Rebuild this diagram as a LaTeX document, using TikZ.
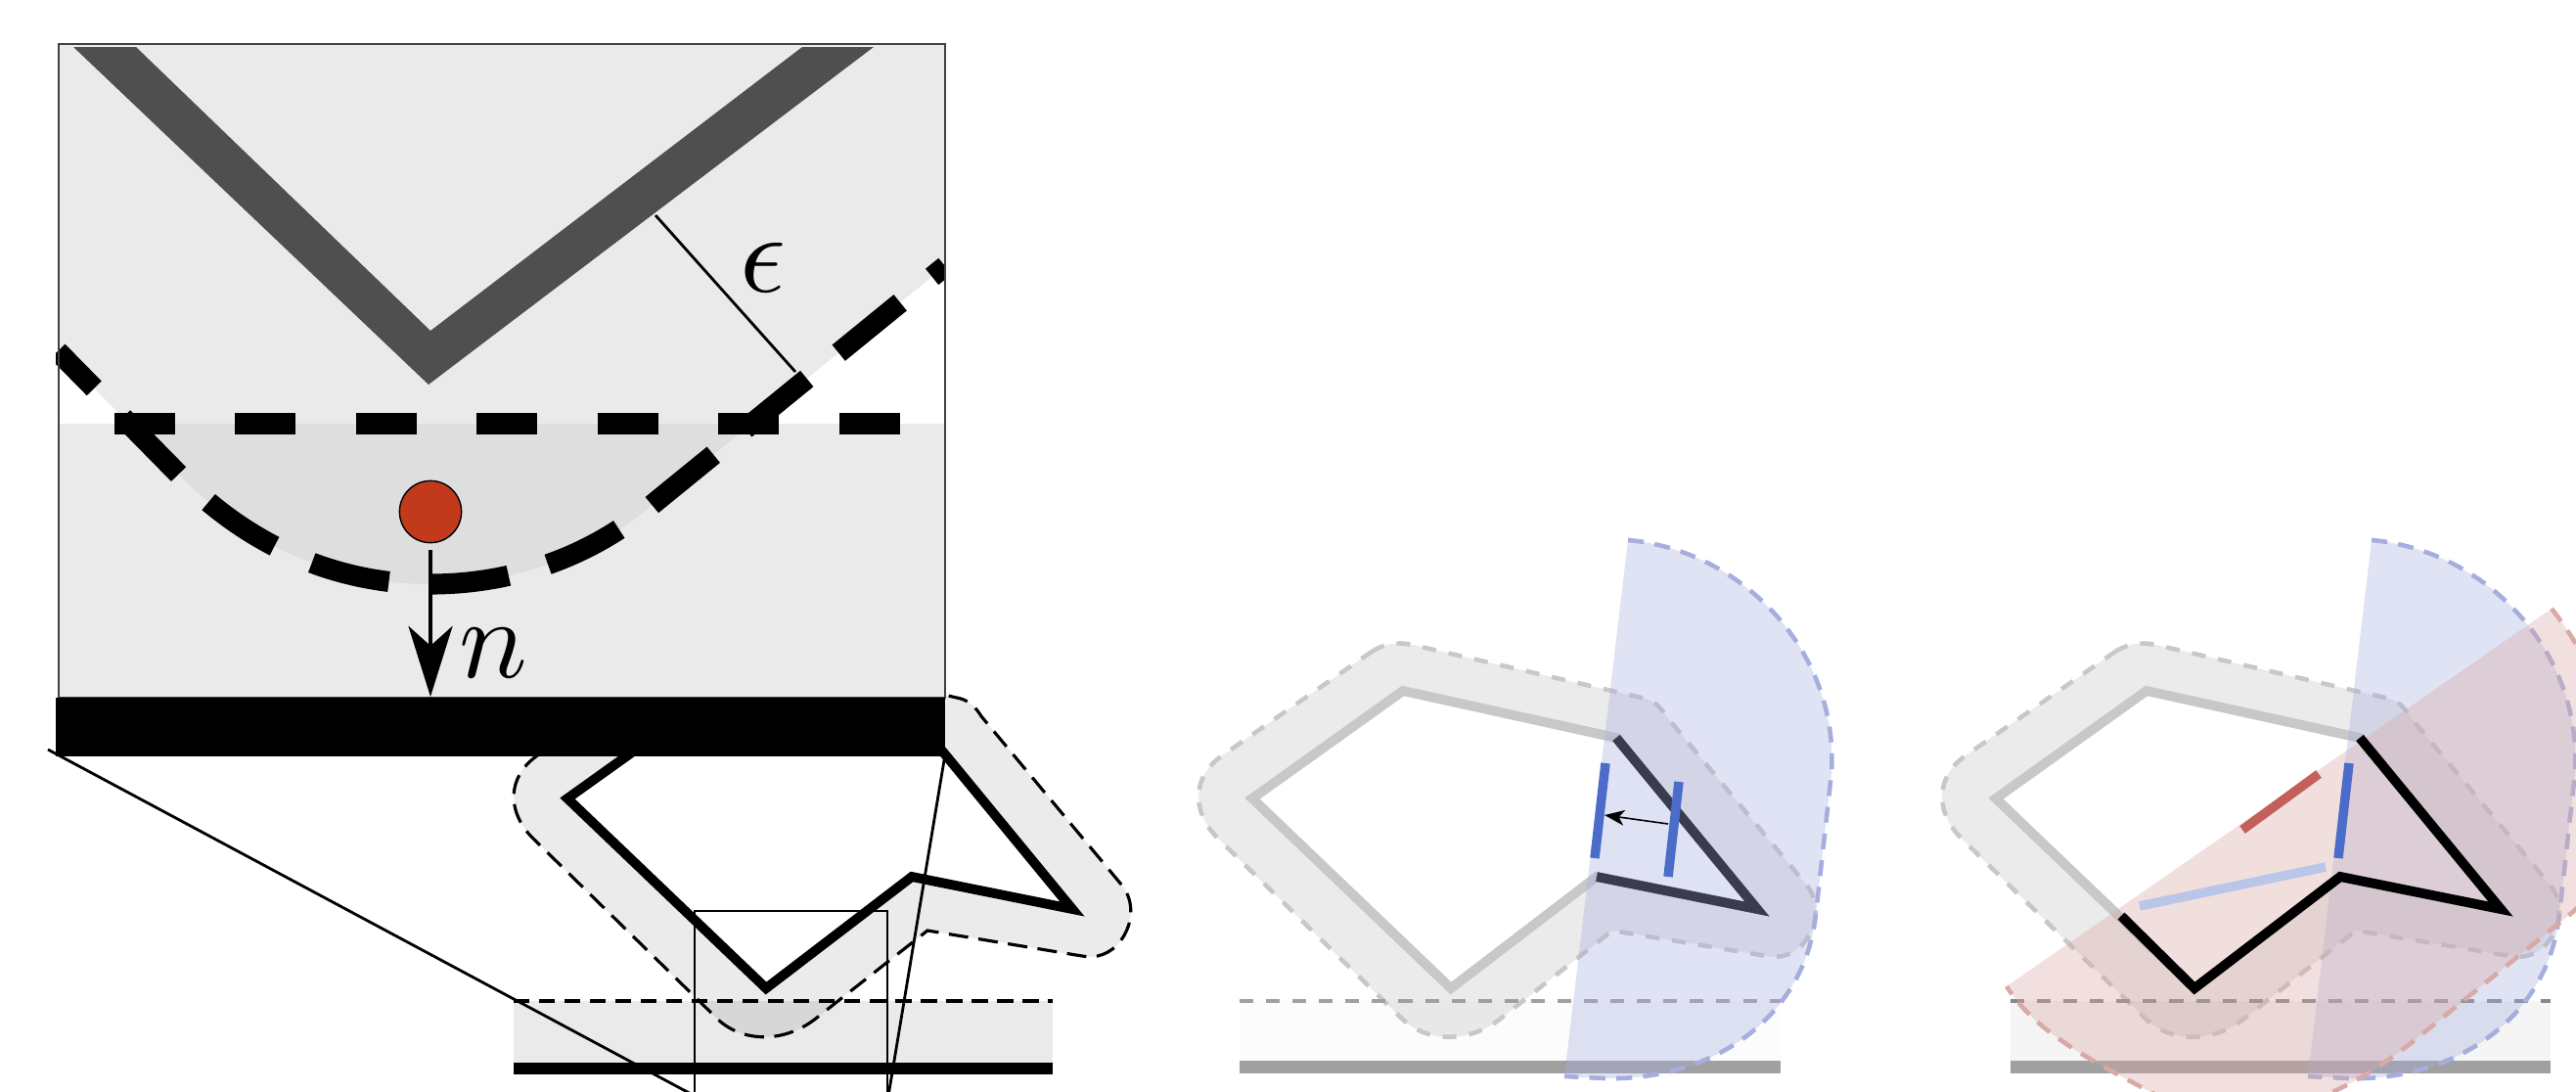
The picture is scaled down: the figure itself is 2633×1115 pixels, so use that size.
\documentclass[tikz,border=0pt]{standalone}
\usepackage{xcolor}
\usetikzlibrary{arrows.meta}
\definecolor{panelgrey}{HTML}{EAEAEA}
\definecolor{overlapgrey}{HTML}{DEDEDE}
\definecolor{darkvee}{HTML}{4F4F4F}
\definecolor{dotred}{HTML}{C03A1B}
\definecolor{fadegrey}{HTML}{C8C8C8}
\definecolor{stripgrey}{HTML}{A0A0A0}
\definecolor{sectorblue}{HTML}{A6AEDD}
\definecolor{sectorred}{HTML}{D9A9A5}
\definecolor{barblue}{HTML}{4C6CC9}
\definecolor{barred}{HTML}{C4605A}
\definecolor{barpale}{HTML}{BAC6E8}
\newcommand{\hullcurve}{(59,359) -- (181,483) .. controls (250,555) and (340,597) .. (440,597)
  .. controls (530,597) and (610,565) .. (670,513) -- (966,272)}
\newcommand{\bandpath}{(1402,666) .. controls (1418,656) and (1432,656) .. (1448,660) -- (1682,714)
  .. controls (1692,717) and (1698,724) .. (1703,732) -- (1847,905)
  .. controls (1860,922) and (1858,945) .. (1845,962) .. controls (1835,975) and (1820,980) .. (1806,977)
  -- (1648,951) -- (1535,1040) .. controls (1503,1066) and (1460,1066) .. (1434,1042) -- (1245,857)
  .. controls (1218,830) and (1218,795) .. (1248,773) -- cycle}
\newcommand{\polypath}{(1434,706) -- (1280,816) -- (1483,1010) -- (1632,896) -- (1796,929) -- (1652,754) -- cycle}
\newcommand{\bluearc}{(1664,552) .. controls (1780,562) and (1880,665) .. (1872,790) -- (1856,934)
  .. controls (1845,1040) and (1750,1105) .. (1640,1102) -- (1599,1100)}
\newcommand{\redarc}{(2608,622) .. controls (2700,740) and (2700,880) .. (2620,940) -- (2473,1059)
  .. controls (2380,1135) and (2290,1160) .. (2200,1117) .. controls (2140,1085) and (2080,1055) .. (2051,1008)}
\tikzset{
  x=0.01cm, y=-0.01cm,
  bandfill/.style={fill=black, fill opacity=0.08},
  bandline/.style={dash pattern=on 5.7pt off 3pt, line width=0.9pt},
  fadeline/.style={draw=fadegrey, dash pattern=on 4pt off 3.7pt, line width=1.3pt},
  polyline/.style={line width=2.8pt, miter limit=20},
  bluefill/.style={fill=sectorblue, fill opacity=0.35},
  bluedash/.style={draw=sectorblue, dash pattern=on 4.6pt off 3.2pt, line width=1.3pt},
  redfill/.style={fill=sectorred, fill opacity=0.36},
  reddash/.style={draw=sectorred, dash pattern=on 4.6pt off 3.2pt, line width=1.3pt},
  stripdash/.style={draw=stripgrey, dash pattern=on 4pt off 3.7pt, line width=1.3pt},
  bar/.style={line width=2.7pt},
  zoomline/.style={line width=0.8pt},
  bigtip/.style={-{Stealth[length=20.5pt,width=12.8pt,inset=5.7pt]}, line width=1.3pt},
  smalltip/.style={-{Stealth[length=5.8pt,width=4.5pt,inset=1.6pt]}, line width=0.45pt},
  biglabel/.style={scale=3.3, inner sep=0pt},
}
\begin{document}
\begin{tikzpicture}
  \clip[use as bounding box] (0,0) rectangle (2633,1115);

  \fill[panelgrey] (525,1023) rectangle (1076,1086);
  \begin{scope}[shift={(-700,0)}]
    \fill[bandfill] \bandpath;
    \draw[black, bandline] \bandpath;
    \draw[black, polyline, fill=white] \polypath;
  \end{scope}
  \draw[black, dash pattern=on 4.6pt off 2.8pt, line width=1pt] (525,1023) -- (1076,1023);
  \fill[black] (525,1086) rectangle (1076,1098);
  \draw[line width=0.45pt] (710,931) rectangle (907,1130);
  \draw[zoomline] (49,766) -- (710,1120);
  \draw[zoomline] (966,771) -- (908,1120);

  \fill[white] (60,45) rectangle (966,713);
  \fill[panelgrey] (60,433) rectangle (966,713);
  \fill[panelgrey] \hullcurve -- (966,45) -- (60,45) -- cycle;
  \begin{scope}
    \clip (60,433) rectangle (966,713);
    \fill[overlapgrey] \hullcurve -- (966,45) -- (60,45) -- cycle;
  \end{scope}
  \fill[darkvee] (75,48) -- (139,48) -- (440,338) -- (820,48) -- (893,48) -- (438,393) -- cycle;
  \draw[line width=6pt, dash pattern=on 17.6pt off 17.5pt] (117,433) -- (920,433);
  \begin{scope}
    \clip (57,45) rectangle (966,713);
    \draw[line width=6pt, dash pattern=on 23.1pt off 11.9pt, dash phase=8pt] \hullcurve;
  \end{scope}
  \draw[line width=0.45pt, draw=black!75] (60,45) rectangle (966,713);
  \draw[line width=0.8pt] (670,220) -- (813,380);
  \node[biglabel] (eps) at (780,274) {$\epsilon$};
  \node[circle, draw=black, fill=dotred, line width=0.4pt, minimum size=18pt, inner sep=0pt] (point) at (440,523) {};
  \coordinate (foot) at (440,712);
  \draw[bigtip] (440,562) -- (foot);
  \node[biglabel] (normal) at (504,668) {$n$};
  \fill[black] (57,713) rectangle (966,773);

  \fill[black!1] (1267,1023) rectangle (1820,1085);
  \fill[bandfill] \bandpath;
  \draw[fadeline] \bandpath;
  \draw[fadegrey, polyline, fill=white] \polypath;
  \draw[black, polyline] (1652,754) -- (1796,929) -- (1632,896);
  \draw[stripdash] (1267,1023) -- (1820,1023);
  \fill[stripgrey] (1267,1084) rectangle (1820,1097);
  \fill[bluefill] \bluearc -- cycle;
  \draw[bluedash] \bluearc;
  \draw[barblue, bar] (1641,780) -- (1630,877);
  \draw[barblue, bar] (1716,799) -- (1705,896);
  \draw[smalltip] (1705,842) -- (1640,833);

  \fill[black!4] (2055,1023) rectangle (2607,1085);
  \begin{scope}[shift={(760,0)}]
    \fill[bandfill] \bandpath;
    \draw[fadeline] \bandpath;
    \draw[fadegrey, polyline, fill=white] \polypath;
  \end{scope}
  \draw[stripdash, draw=stripgrey!85!black] (2055,1023) -- (2607,1023);
  \fill[stripgrey] (2055,1084) rectangle (2607,1097);
  \begin{scope}[shift={(760,0)}]
    \fill[bluefill] \bluearc -- cycle;
    \draw[bluedash] \bluearc;
  \end{scope}
  \fill[redfill] \redarc -- cycle;
  \draw[reddash] \redarc;
  \draw[black, polyline] (2168,936) -- (2243,1010) -- (2392,896) -- (2556,929) -- (2412,754);
  \draw[barred, bar] (2370,791) -- (2292,848);
  \draw[barpale, bar] (2377,886) -- (2187,926);
  \draw[barblue, bar] (2401,780) -- (2390,877);
\end{tikzpicture}
\end{document}
